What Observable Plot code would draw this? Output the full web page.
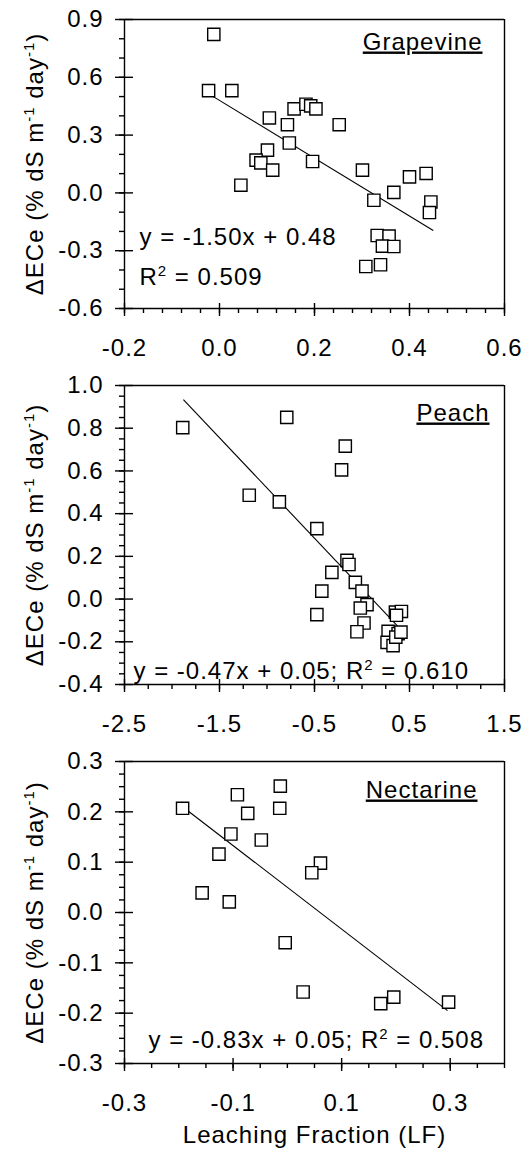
<!DOCTYPE html>
<html><head><meta charset="utf-8">
<script src="https://cdn.jsdelivr.net/npm/d3@7"></script>
<script src="https://cdn.jsdelivr.net/npm/@observablehq/plot@0.6"></script>
<style>
html,body{margin:0;padding:0;background:#fff;overflow:hidden;}
#chart{width:524px;}
</style></head><body><div id="chart"></div>
<script>
// ---------- data ----------
const grapeX = [-0.012,-0.023,0.026,0.105,0.143,0.157,0.182,0.192,0.203,0.252,0.147,0.101,0.077,0.087,0.112,0.196,0.045,0.301,0.325,0.367,0.400,0.435,0.445,0.442,0.332,0.357,0.343,0.367,0.308,0.339];
const grapeY = [0.823,0.531,0.531,0.389,0.354,0.436,0.460,0.452,0.436,0.354,0.259,0.222,0.170,0.156,0.118,0.163,0.040,0.118,-0.038,0.003,0.083,0.101,-0.047,-0.102,-0.221,-0.224,-0.276,-0.278,-0.382,-0.373];
const grapeFit = [-1.50, 0.48];
const grapeFitRange = [-0.02, 0.45];
const grapeEq = ["y = -1.50x + 0.48", "R^{2} = 0.509"];

const peachX = [-1.887,-0.792,-0.176,-0.215,-1.187,-0.870,-0.475,-0.158,-0.137,-0.317,-0.070,0.000,-0.423,0.053,-0.018,-0.475,0.021,-0.053,0.352,0.415,0.363,0.275,0.264,0.327,0.380,0.356,0.410];
const peachY = [0.803,0.851,0.716,0.605,0.486,0.455,0.330,0.181,0.162,0.125,0.078,0.037,0.037,-0.026,-0.042,-0.073,-0.112,-0.153,-0.061,-0.058,-0.076,-0.151,-0.203,-0.218,-0.162,-0.178,-0.155];
const peachFit = [-0.47, 0.05];
const peachFitRange = [-1.88, 0.38];
const peachEq = ["y = -0.47x + 0.05; R^{2} = 0.610"];

const nectX = [-0.193,-0.092,-0.013,-0.014,-0.073,-0.104,-0.048,-0.126,0.061,0.045,-0.157,-0.107,-0.004,0.029,0.172,0.196,0.297];
const nectY = [0.207,0.234,0.251,0.207,0.197,0.156,0.144,0.116,0.098,0.079,0.039,0.021,-0.060,-0.158,-0.181,-0.168,-0.178];
const nectFit = [-0.83, 0.05];
const nectFitRange = [-0.19, 0.295];
const nectEq = ["y = -0.83x + 0.05; R^{2} = 0.508"];

const titles = ["Grapevine", "Peach", "Nectarine"];
const yLabel = "ΔECe (% dS m^{-1} day^{-1})";
const xLabel = "Leaching Fraction (LF)";

// axis ticks
const grapeXTicks = [-0.2, 0.0, 0.2, 0.4, 0.6];
const grapeYTicks = [-0.6, -0.3, 0.0, 0.3, 0.6, 0.9];
const peachXTicks = [-2.5, -1.5, -0.5, 0.5, 1.5];
const peachYTicks = [-0.4, -0.2, 0.0, 0.2, 0.4, 0.6, 0.8, 1.0];
const nectXTicks = [-0.3, -0.1, 0.1, 0.3];
const nectXDomain = [-0.3, 0.4];
const nectYTicks = [-0.3, -0.2, -0.1, 0.0, 0.1, 0.2, 0.3];
const grapeXMinorStep = 0.04, grapeYMinorStep = 0.1;
const peachXMinorStep = 0.25, peachYMinorStep = 0.05;
const nectXMinorStep = 0.05, nectYMinorStep = 0.025;

// ---------- drawing ----------
const FONT = "'Liberation Sans', Arial, sans-serif";
const SW = 1.4;
const fmt = d => (Math.abs(d) < 1e-9 ? 0 : d).toFixed(1);
const blank = () => "";
const minor = (dom, step) => d3.range(dom[0], dom[1] + step / 2, step).map(v => +v.toFixed(4));

function richify(svg) {
  svg.querySelectorAll("text").forEach(t => {
    const s = t.textContent;
    if (titles.includes(s)) t.style.textDecoration = "underline";
    if (s.includes("^{")) {
      t.textContent = "";
      const parts = s.split(/(\^\{[^}]*\})/);
      let raised = false;
      for (const p of parts) {
        if (!p) continue;
        const ts = document.createElementNS("http://www.w3.org/2000/svg", "tspan");
        if (p.startsWith("^{")) {
          ts.textContent = p.slice(2, -1);
          ts.setAttribute("font-size", "15");
          ts.setAttribute("dy", "-9");
          raised = true;
        } else {
          ts.textContent = p;
          if (raised) { ts.setAttribute("dy", "9"); raised = false; }
        }
        t.appendChild(ts);
      }
    }
  });
}

function panel(o) {
  const pts = o.xs.map((x, i) => ({x, y: o.ys[i]}));
  const seg = [{x1: o.fitRange[0], y1: o.fit[0] * o.fitRange[0] + o.fit[1],
                x2: o.fitRange[1], y2: o.fit[0] * o.fitRange[1] + o.fit[1]}];
  const xDom = o.xDomain || [o.xTicks[0], o.xTicks[o.xTicks.length - 1]];
  const yDom = [o.yTicks[0], o.yTicks[o.yTicks.length - 1]];
  const marks = [
    // frame
    Plot.ruleX(xDom, {stroke: "black", strokeWidth: SW}),
    Plot.ruleY(yDom, {stroke: "black", strokeWidth: SW}),
    // minor ticks (outward)
    Plot.axisX(minor(xDom, o.xMinor), {tickSize: 5, tickFormat: blank, label: null, strokeWidth: SW}),
    Plot.axisY(minor(yDom, o.yMinor), {tickSize: 5, tickFormat: blank, label: null, strokeWidth: SW}),
    // major ticks crossing the axis
    Plot.axisX(o.xTicks, {tickSize: 13, dy: -5, tickFormat: blank, label: null, strokeWidth: SW}),
    Plot.axisY(o.yTicks, {tickSize: 18, dx: 9, tickFormat: blank, label: null, strokeWidth: SW}),
    // tick labels
    Plot.axisX(o.xTicks, {tickSize: 0, tickPadding: 30, tickFormat: fmt, label: null}),
    Plot.axisY(o.yTicks, {tickSize: 0, tickPadding: 21, tickFormat: fmt, label: null}),
    Plot.link(seg, {x1: "x1", y1: "y1", x2: "x2", y2: "y2", stroke: "black", strokeWidth: 1.1}),
    Plot.dot(pts, {x: "x", y: "y", symbol: "square", r: 6.9, fill: "white", stroke: "black", strokeWidth: SW}),
    Plot.text([o.title], {text: d => d, frameAnchor: "top-right", textAnchor: "end", lineAnchor: "bottom", dx: o.titleDx, dy: o.titleDy}),
    Plot.text([yLabel], {text: d => d, frameAnchor: "left", rotate: -90, textAnchor: "middle", lineAnchor: "bottom", dx: -82})
  ];
  o.eq.forEach((e, i) => marks.push(
    Plot.text([e], {text: d => d, frameAnchor: "bottom-left", textAnchor: "start", lineAnchor: "bottom", dx: o.eqDx, dy: o.eqDy[i]})
  ));
  if (o.xTitle) marks.push(Plot.text([o.xTitle], {text: d => d, frameAnchor: "bottom", textAnchor: "middle", lineAnchor: "bottom", dy: 79}));
  const svg = Plot.plot({
    width: 524, height: o.height,
    marginLeft: 124, marginRight: 20, marginTop: o.mt, marginBottom: o.mb,
    x: {domain: xDom, label: null},
    y: {domain: yDom, label: null},
    style: {fontFamily: FONT, fontSize: "24px", letterSpacing: "1px", color: "black"},
    marks
  });
  richify(svg);
  document.getElementById("chart").appendChild(svg);
}

panel({xs: grapeX, ys: grapeY, fit: grapeFit, fitRange: grapeFitRange, eq: grapeEq, title: titles[0],
  xTicks: grapeXTicks, yTicks: grapeYTicks, xMinor: grapeXMinorStep, yMinor: grapeYMinorStep,
  height: 372, mt: 19, mb: 64, titleDx: -22, titleDy: 30, eqDx: 15, eqDy: [-64, -24]});
panel({xs: peachX, ys: peachY, fit: peachFit, fitRange: peachFitRange, eq: peachEq, title: titles[1],
  xTicks: peachXTicks, yTicks: peachYTicks, xMinor: peachXMinorStep, yMinor: peachYMinorStep,
  height: 376, mt: 13, mb: 64, titleDx: -15, titleDy: 35, eqDx: 9, eqDy: [-6]});
panel({xs: nectX, ys: nectY, fit: nectFit, fitRange: nectFitRange, eq: nectEq, title: titles[2],
  xTicks: nectXTicks, xDomain: nectXDomain, yTicks: nectYTicks, xMinor: nectXMinorStep, yMinor: nectYMinorStep, xTitle: xLabel,
  height: 405, mt: 13, mb: 90, titleDx: -27, titleDy: 36, eqDx: 24, eqDy: [-16]});
</script></body></html>
